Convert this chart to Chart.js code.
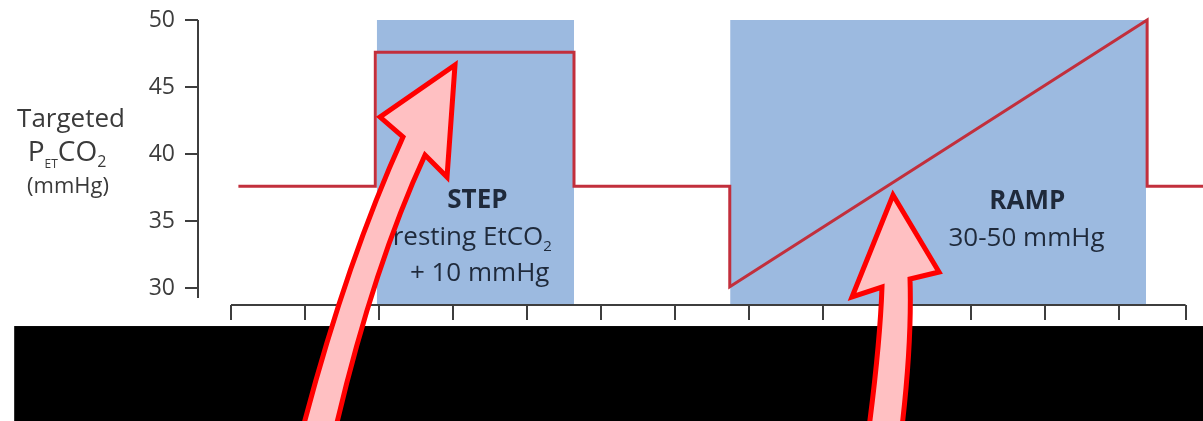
<!DOCTYPE html>
<html><head><meta charset="utf-8">
<style>html,body{margin:0;padding:0;background:#fff;overflow:hidden}canvas{display:block}</style>
<script src="https://cdn.jsdelivr.net/npm/chart.js@4/dist/chart.umd.min.js"></script>
</head><body>
<canvas id="c" width="1203" height="421"></canvas>
<script>
// ---- data ----
const tValues    = [0.1, 1.95, 1.95, 4.635, 4.635, 6.74, 6.74, 12.38, 12.38, 13.14];
const pco2Values = [37.6, 37.6, 47.6, 47.6, 37.6, 37.6, 30.1, 50, 37.6, 37.6];
const stepWindow = [1.97, 4.635];
const rampWindow = [6.745, 12.365];
const windowTop = 50;
const yTickValues = [30, 35, 40, 45, 50];
const xTickValues = [0,1,2,3,4,5,6,7,8,9,10,11,12,12.9];
const yAxisSpan = [29.25, 50];
const stepLabels = [
  {x:3.33, y:35.97, parts:[{t:'STEP', bold:true}]},
  {x:3.26, y:33.21, parts:[{t:'resting EtCO'},{t:'2', sub:true}]},
  {x:3.36, y:30.52, parts:[{t:'+ 10 mmHg'}]}
];
const rampLabels = [
  {x:10.76, y:35.90, parts:[{t:'RAMP', bold:true}]},
  {x:10.75, y:33.13, parts:[{t:'30-50 mmHg'}]}
];
// redaction box [x0,x1,y0,y1] in data units
const blackBox = [-2.93, 13.2, 27.16, 18.5];
// arrow outlines in data units: tip, right barb, right notch, right ctrl, right bottom, left bottom, left ctrl, left notch, left barb
const arrow1 = [[3.027,46.64],[2.919,38.28],[2.622,39.93],[1.905,31.34],[1.392,19.0],[0.946,19.0],[1.541,31.72],[2.324,41.27],[2.014,42.76]];
const arrow2 = [[8.946,36.94],[9.568,31.19],[9.176,30.67],[9.203,25.75],[9.054,19.0],[8.608,19.0],[8.770,25.75],[8.797,30.07],[8.392,29.33]];

const FONT = '"Open Sans", "DejaVu Sans", sans-serif';
const axisColor = '#3e3e3e';
const boxBlue = '#9cbae0';
const lineRed = '#c22f3c';
const textNavy = '#1f2a3b';

function drawParts(ctx, parts, cx, base, size){
  const fontOf = p => (p.bold ? 'bold ' : '') + (p.size || (p.sub ? Math.round(size*0.58) : size)) + 'px ' + FONT;
  let w = 0;
  parts.forEach(p => { ctx.font = fontOf(p); p._w = ctx.measureText(p.t).width; w += p._w; });
  let x = cx - w/2;
  parts.forEach(p => {
    ctx.font = fontOf(p);
    ctx.fillText(p.t, x, base + (p.sub ? (p.dy||6) : 0));
    x += p._w;
  });
}

const decor = {
  id: 'decor',
  afterDatasetsDraw(chart){
    const {ctx, scales:{x, y}, chartArea} = chart;
    ctx.save();
    // axis lines
    ctx.strokeStyle = axisColor; ctx.lineWidth = 2;
    ctx.beginPath();
    ctx.moveTo(chartArea.left, y.getPixelForValue(yAxisSpan[1]));
    ctx.lineTo(chartArea.left, y.getPixelForValue(yAxisSpan[0]));
    ctx.moveTo(x.getPixelForValue(xTickValues[0]), chartArea.bottom);
    ctx.lineTo(x.getPixelForValue(xTickValues[xTickValues.length-1]), chartArea.bottom);
    ctx.stroke();
    // window labels
    ctx.fillStyle = textNavy; ctx.textBaseline = 'alphabetic'; ctx.textAlign = 'left';
    [...stepLabels, ...rampLabels].forEach(l => drawParts(ctx, l.parts, x.getPixelForValue(l.x), y.getPixelForValue(l.y), 26));
    ctx.restore();
  },
  afterDraw(chart){
    const {ctx, scales:{x, y}} = chart;
    ctx.save();
    // y title
    ctx.fillStyle = '#3a3a3a'; ctx.textAlign = 'left'; ctx.textBaseline = 'alphabetic';
    drawParts(ctx, [{t:'Targeted'}], 71, 127, 26);
    drawParts(ctx, [{t:'P'},{t:'ET', sub:true, dy:7, size:12},{t:'CO'},{t:'2', sub:true, dy:6, size:16}], 67, 161, 28);
    drawParts(ctx, [{t:'(mmHg)'}], 68, 193, 22);
    // redaction
    ctx.fillStyle = '#000';
    const bx0 = x.getPixelForValue(blackBox[0]), bx1 = x.getPixelForValue(blackBox[1]);
    const by0 = y.getPixelForValue(blackBox[2]), by1 = y.getPixelForValue(blackBox[3]);
    ctx.fillRect(bx0, by0, bx1 - bx0, by1 - by0);
    // arrows
    [arrow1, arrow2].forEach(a => {
      const P = a.map(([vx, vy]) => [x.getPixelForValue(vx), y.getPixelForValue(vy)]);
      ctx.beginPath();
      ctx.moveTo(P[0][0], P[0][1]);
      ctx.lineTo(P[1][0], P[1][1]);
      ctx.lineTo(P[2][0], P[2][1]);
      ctx.quadraticCurveTo(P[3][0], P[3][1], P[4][0], P[4][1]);
      ctx.lineTo(P[5][0], P[5][1]);
      ctx.quadraticCurveTo(P[6][0], P[6][1], P[7][0], P[7][1]);
      ctx.lineTo(P[8][0], P[8][1]);
      ctx.closePath();
      ctx.fillStyle = '#ffc0c2';
      ctx.fill();
      ctx.strokeStyle = '#ff0000'; ctx.lineWidth = 5; ctx.lineJoin = 'miter';
      ctx.stroke();
    });
    ctx.restore();
  }
};

const windowDataset = (w) => ({
  data: [{x: w[0], y: windowTop}, {x: w[1], y: windowTop}],
  borderWidth: 0, pointRadius: 0, backgroundColor: boxBlue, borderColor: 'rgba(0,0,0,0)',
  fill: 'start', order: 2
});

new Chart(document.getElementById('c'), {
  type: 'line',
  data: {
    datasets: [
      {
        data: tValues.map((t, i) => ({x: t, y: pco2Values[i]})),
        borderColor: lineRed, borderWidth: 3, pointRadius: 0, tension: 0, fill: false, order: 1,
        borderJoinStyle: 'miter'
      },
      windowDataset(stepWindow),
      windowDataset(rampWindow)
    ]
  },
  options: {
    responsive: false, animation: false, devicePixelRatio: 1,
    layout: {padding: {top: 16, left: 0, right: 0, bottom: 0}},
    plugins: {legend: {display: false}, tooltip: {enabled: false}},
    scales: {
      x: {
        type: 'linear', min: -0.446, max: 13.135,
        afterBuildTicks: s => { s.ticks = xTickValues.map(v => ({value: v})); },
        afterFit: s => { s.height = 116; s.paddingLeft = 0; s.paddingRight = 0; },
        ticks: {display: false},
        border: {display: false},
        grid: {drawOnChartArea: false, drawTicks: true, tickLength: 15, color: axisColor, lineWidth: 2}
      },
      y: {
        min: 28.73, max: 50.3,
        afterBuildTicks: s => { s.ticks = yTickValues.map(v => ({value: v})); },
        afterFit: s => { s.width = 198; s.paddingTop = 0; s.paddingBottom = 0; },
        ticks: {padding: 10, color: '#3d3d3d', font: {family: FONT, size: 23}},
        border: {display: false},
        grid: {drawOnChartArea: false, drawTicks: true, tickLength: 13, color: axisColor, lineWidth: 2}
      }
    }
  },
  plugins: [decor]
});
</script></body></html>
